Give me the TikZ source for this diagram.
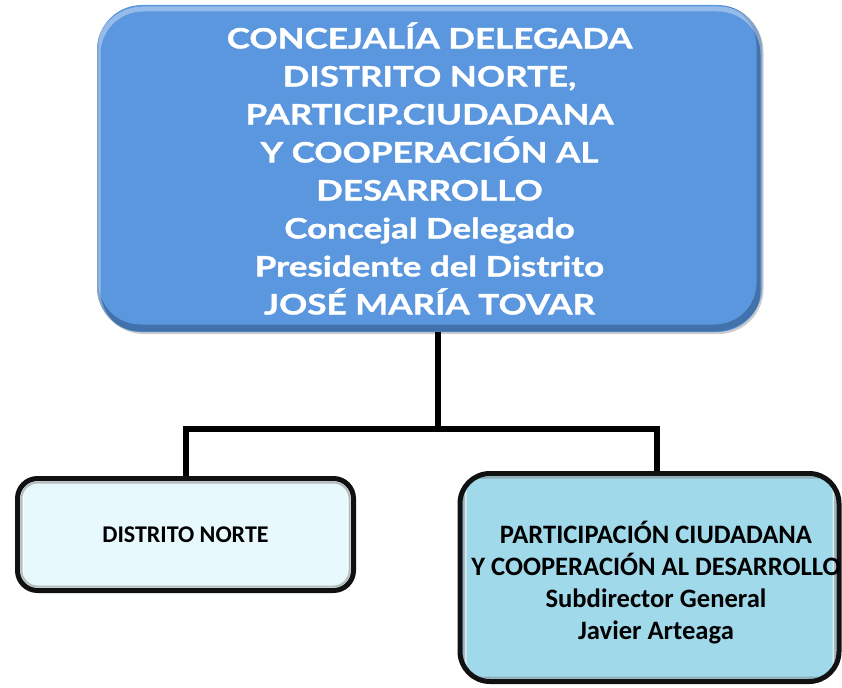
\documentclass[tikz,border=0pt]{standalone}
\usepackage{fontspec}
\setmainfont{Carlito}
\newfontfamily\topfont[FakeStretch=1.25, FakeBold=1.2]{Lato}
\usetikzlibrary{shadows}
\definecolor{topblue}{HTML}{5B97DE}
\definecolor{topedge}{HTML}{2E5483}
\definecolor{lightcyan}{HTML}{E8F9FD}
\definecolor{midcyan}{HTML}{A0D9EA}
\definecolor{boxedge}{HTML}{111111}
\tikzset{
  topbox/.style={rectangle, rounded corners=45pt, fill=topblue,
    drop shadow={shadow xshift=1.5pt, shadow yshift=-2pt, opacity=0.4},
    path picture={
      \draw[line width=7pt, topedge, opacity=0.55, rounded corners=45pt]
        ([xshift=-2pt,yshift=4pt]path picture bounding box.south west) rectangle
        ([xshift=-2pt,yshift=4pt]path picture bounding box.north east);
      \draw[line width=5pt, white, opacity=0.35, rounded corners=45pt]
        ([xshift=1pt,yshift=-4pt]path picture bounding box.south west) rectangle
        ([xshift=1pt,yshift=-4pt]path picture bounding box.north east);
    },
    minimum width=665pt, minimum height=327pt, inner sep=0pt, align=center,
    text=white, font=\topfont\bfseries\fontsize{28}{38}\selectfont},
  subbox/.style={rectangle, draw=boxedge, line width=5pt, inner sep=0pt,
    path picture={
      \draw[line width=3pt, white, opacity=0.6, rounded corners=16pt]
        ([xshift=5pt,yshift=-5pt]path picture bounding box.south west) rectangle
        ([xshift=-5pt,yshift=5pt]path picture bounding box.north east);
      \draw[line width=2pt, gray, opacity=0.5, rounded corners=16pt]
        ([xshift=4pt,yshift=4pt]path picture bounding box.south west) rectangle
        ([xshift=-4pt,yshift=-4pt]path picture bounding box.north east);
    }},
  sublabel/.style={align=center, inner sep=0pt, text=black},
  conn/.style={line width=6pt, draw=black}
}
\begin{document}
\begin{tikzpicture}[x=1pt,y=-1pt]
\useasboundingbox (0,0) rectangle (842,687);
\node[topbox] (top) at (429.5,168.5) {CONCEJALÍA DELEGADA\\DISTRITO NORTE,\\PARTICIP.CIUDADANA\\Y COOPERACIÓN AL\\DESARROLLO\\Concejal Delegado\\Presidente del Distrito\\JOSÉ MARÍA TOVAR};
\node[subbox, rounded corners=20pt, fill=lightcyan, minimum width=336pt, minimum height=112pt] (left) at (185.5,534.5) {};
\node[sublabel, font=\bfseries\fontsize{24}{32}\selectfont] (lefttext) at (left.center) {DISTRITO NORTE};
\node[subbox, rounded corners=30pt, fill=midcyan, minimum width=379pt, minimum height=208pt] (right) at (649.5,577.5) {};
\node[sublabel, font=\bfseries\fontsize{26.6}{32}\selectfont] (righttext) at (656,583) {PARTICIPACIÓN CIUDADANA\\Y COOPERACIÓN AL DESARROLLO\\Subdirector General\\Javier Arteaga};
\coordinate (bus) at (438,429);
\coordinate (hl) at (186,429);
\coordinate (hr) at (657,429);
\draw[conn] (top.south -| bus) -- (bus);
\draw[conn, line cap=rect] (hl) -- (hr);
\draw[conn] (hl) -- (hl |- left.north);
\draw[conn] (hr) -- (hr |- right.north);
\end{tikzpicture}
\end{document}
